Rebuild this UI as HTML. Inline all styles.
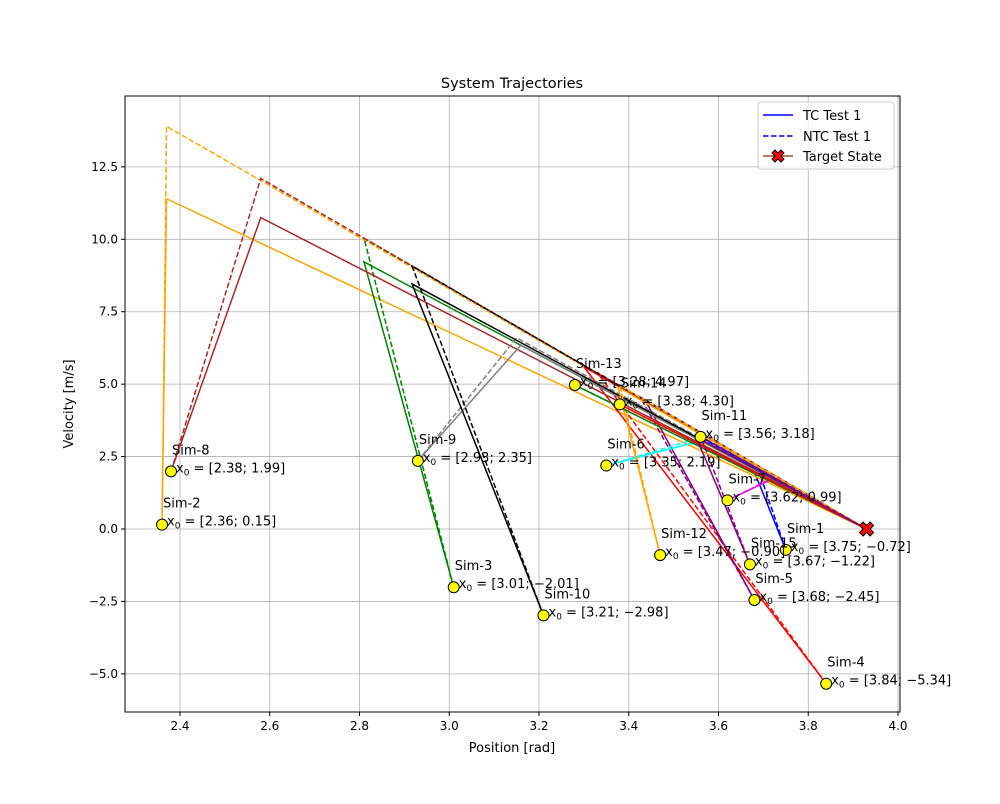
<!DOCTYPE html>
<html><head><meta charset="utf-8"><style>
body{margin:0;background:#fff;font-family:"DejaVu Sans","Liberation Sans",sans-serif}
</style></head><body>
<svg id="chart" width="1000" height="800" xmlns="http://www.w3.org/2000/svg" font-family="DejaVu Sans, Liberation Sans, sans-serif">
<rect width="1000" height="800" fill="#fff"/>
<g id="grid"></g>
<g id="lines"></g>
<g id="marks"></g>
<g id="labels"></g>
<rect x="125" y="96" width="775" height="616" fill="none" stroke="#000" stroke-width="1"/>
<g id="ticks"></g>
<text x="512" y="88" text-anchor="middle" font-size="14.5">System Trajectories</text>
<text x="512" y="752" text-anchor="middle" font-size="13">Position [rad]</text>
<text transform="translate(73,404) rotate(-90)" text-anchor="middle" font-size="13">Velocity [m/s]</text>
<g>
<rect x="758" y="102" width="136" height="67" rx="3" fill="#fff" fill-opacity="0.8" stroke="#ccc"/>
<line x1="763" y1="115" x2="793" y2="115" stroke="#0000ff" stroke-width="1.5"/>
<text x="803" y="120" font-size="13">TC Test 1</text>
<line x1="763" y1="136" x2="793" y2="136" stroke="#0000ff" stroke-width="1.5" stroke-dasharray="5.5,2.5"/>
<text x="803" y="141" font-size="13">NTC Test 1</text>
<line x1="763" y1="156" x2="793" y2="156" stroke="#a0522d" stroke-width="1.5"/>
<g transform="translate(778,156)"><path d="M-6,-3 L-3,-6 L0,-3 L3,-6 L6,-3 L3,0 L6,3 L3,6 L0,3 L-3,6 L-6,3 L-3,0Z" fill="#ff0000" stroke="#000" stroke-width="1"/></g>
<text x="803" y="161" font-size="13">Target State</text>
</g>
</svg>
<script>
const simNames=["Sim-1","Sim-2","Sim-3","Sim-4","Sim-5","Sim-6","Sim-7","Sim-8","Sim-9","Sim-10","Sim-11","Sim-12","Sim-13","Sim-14","Sim-15"];
const startX=[3.75,2.36,3.01,3.84,3.68,3.35,3.62,2.38,2.93,3.21,3.56,3.47,3.28,3.38,3.67];
const startY=[-0.72,0.15,-2.01,-5.34,-2.45,2.19,0.99,1.99,2.35,-2.98,3.18,-0.90,4.97,4.30,-1.22];
const tcMidX=[3.68,2.37,2.81,3.30,3.44,3.55,3.715,2.58,3.16,2.917,null,3.376,null,null,3.55];
const tcMidY=[1.97,11.4,9.22,5.6,4.35,3.0,1.69,10.75,6.35,8.46,null,4.9,null,null,3.18];
const ntcMidX=[3.69,2.37,2.81,3.33,3.425,3.57,3.72,2.58,3.15,2.917,null,3.38,null,null,3.56];
const ntcMidY=[2.0,13.9,10.04,5.4,4.56,3.2,1.75,12.1,6.6,9.08,null,4.95,null,null,3.2];
const colors=["#0000ff","#ffa500","#008000","#ff0000","#800080","#00ffff","#ff00ff","#a52a2a","#808080","#000000"];
const targetX=3.93, targetY=0;
const xTicks=[2.4,2.6,2.8,3.0,3.2,3.4,3.6,3.8,4.0];
const yTicks=[-5.0,-2.5,0.0,2.5,5.0,7.5,10.0,12.5];
const X0=125,X1=900,Y0=96,Y1=712;
const xs=v=>180+(v-2.4)*448.75;
const ys=v=>529-v*28.97;
const NS="http://www.w3.org/2000/svg";
function mk(t,a,p){const e=document.createElementNS(NS,t);for(const k in a)e.setAttribute(k,a[k]);p.appendChild(e);return e;}
const fm=v=>(v<0?'\u2212':'')+Math.abs(v).toFixed(1);
const grid=document.getElementById('grid'),ticks=document.getElementById('ticks');
xTicks.forEach(t=>{const x=xs(t);
 const g=mk('line',{x1:x,x2:x,y1:Y0,y2:Y1,stroke:'#b0b0b0','stroke-width':0.8},grid);
 
 
 mk('line',{x1:x,x2:x,y1:Y1,y2:Y1+4,stroke:'#000'},ticks);
 const tx=mk('text',{x:x,y:Y1+18,'text-anchor':'middle','font-size':12},ticks);tx.textContent=fm(t);
 
 });
yTicks.forEach(t=>{const y=ys(t);
 const g=mk('line',{x1:X0,x2:X1,y1:y,y2:y,stroke:'#b0b0b0','stroke-width':0.8},grid);
 
 
 mk('line',{x1:X0-4,x2:X0,y1:y,y2:y,stroke:'#000'},ticks);
 const tx=mk('text',{x:X0-7,y:y+4,'text-anchor':'end','font-size':12},ticks);tx.textContent=fm(t);
 
 });
const lines=document.getElementById('lines'),marks=document.getElementById('marks'),labels=document.getElementById('labels');
function pts(i,mx,my){const p=[[startX[i],startY[i]]];if(mx[i]!==null)p.push([mx[i],my[i]]);p.push([targetX,targetY]);return p.map(q=>xs(q[0])+','+ys(q[1])).join(' ');}
simNames.forEach((n,i)=>{const c=colors[i%10];
 const a=mk('polyline',{points:pts(i,tcMidX,tcMidY),fill:'none',stroke:c,'stroke-width':1.5},lines);
 
 
 const b=mk('polyline',{points:pts(i,ntcMidX,ntcMidY),fill:'none',stroke:c,'stroke-width':1.5,'stroke-dasharray':'5.5,2.5'},lines);
 
 });
simNames.forEach((n,i)=>{const x=xs(startX[i]),y=ys(startY[i]);
 const m=mk('circle',{cx:x,cy:y,r:5.5,fill:'#ffff00',stroke:'#000','stroke-width':1},marks);
 
 
 const t1=mk('text',{x:x+1,y:y-17,'font-size':13},labels);t1.textContent=n;
 
 
 const t2=mk('text',{x:x+5,y:y+1,'font-size':13},labels);
 const f=v=>(v<0?'\u2212':'')+Math.abs(v).toFixed(2);
 t2.innerHTML='x<tspan font-size="9" dy="3">0</tspan><tspan dy="-3"> = [</tspan>'+startX[i].toFixed(2)+'; '+f(startY[i])+']';
 
 });
const tg=mk('path',{d:'M-7,-3.5 L-3.5,-7 L0,-3.5 L3.5,-7 L7,-3.5 L3.5,0 L7,3.5 L3.5,7 L0,3.5 L-3.5,7 L-7,3.5 L-3.5,0Z',fill:'#ff0000',stroke:'#000','stroke-width':1,transform:'translate('+xs(targetX)+','+ys(targetY)+')'},marks);


</script>
</body></html>
